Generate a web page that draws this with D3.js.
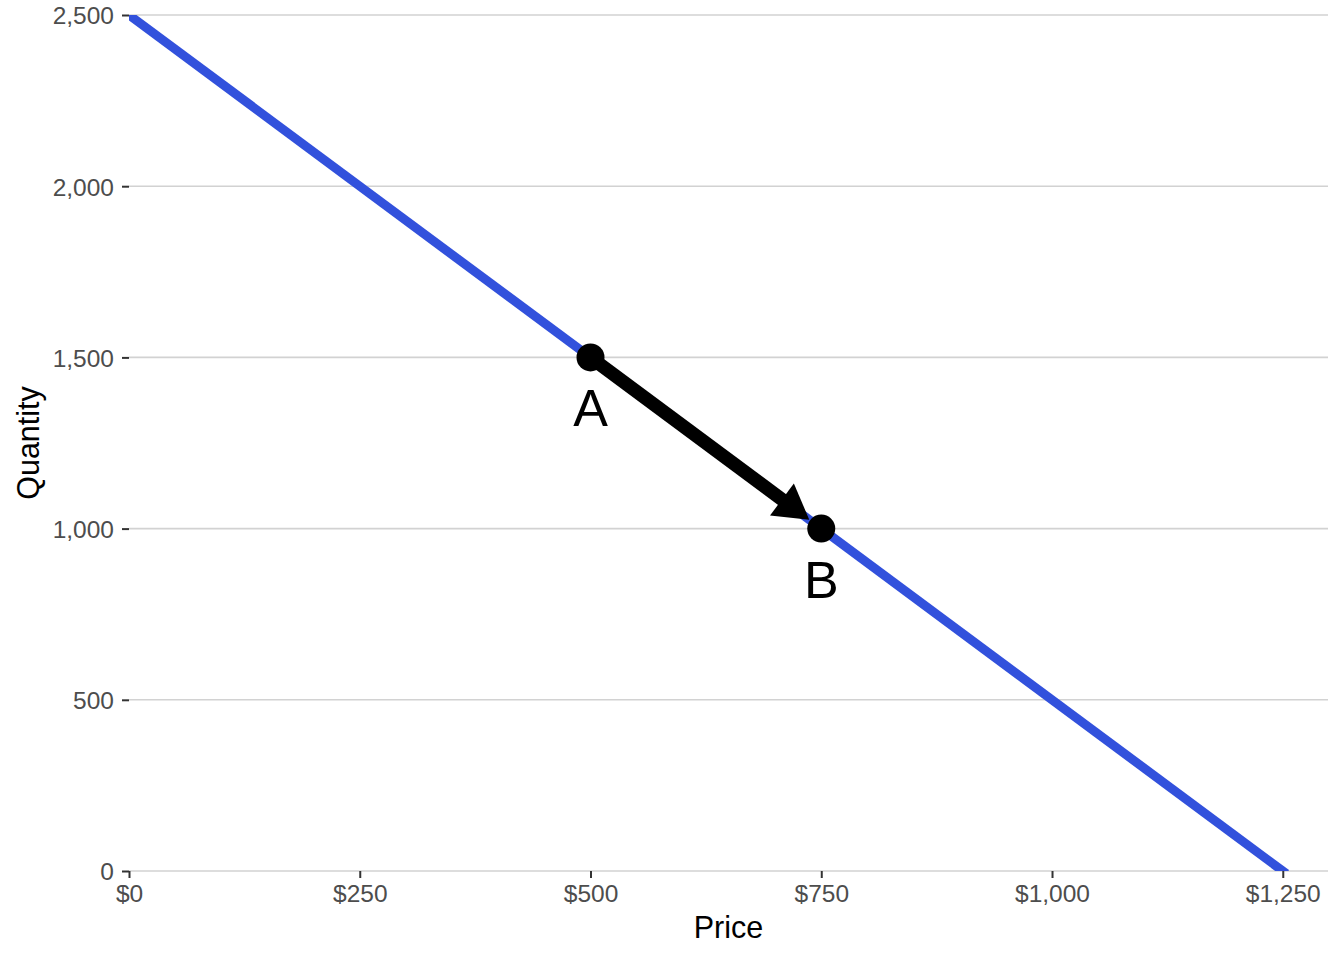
<!DOCTYPE html>
<html><head><meta charset="utf-8">
<script src="https://cdn.jsdelivr.net/npm/d3@7"></script>
<style>body{margin:0;background:#fff}svg{display:block}</style>
</head><body>
<svg id="c" width="1344" height="960"></svg>
<script>
const demandLine = [{price:0, qty:2500},{price:1250, qty:0}];
const points = [{label:"A", price:500, qty:1500},{label:"B", price:750, qty:1000}];
const arrowSeg = [{price:500, qty:1500},{price:737, qty:1026}];
const xTicks = [0,250,500,750,1000,1250];
const yTicks = [0,500,1000,1500,2000,2500];

const svg = d3.select("#c");
const L=129, R=1328, T=15, B=871;
const x = d3.scaleLinear().domain([0,1299]).range([L,R]);
const y = d3.scaleLinear().domain([0,2500]).range([B,T]);
const font = "'Liberation Sans', Arial, Helvetica, sans-serif";

svg.append("defs").append("clipPath").attr("id","panel")
  .append("rect").attr("x",L).attr("y",T).attr("width",R-L).attr("height",B-T);

// gridlines
svg.append("g").selectAll("line").data(yTicks).join("line")
  .attr("x1",L).attr("x2",R).attr("y1",d=>y(d)).attr("y2",d=>y(d))
  .attr("stroke","#d2d2d2").attr("stroke-width",1.6);

// y axis
const fmtN = d3.format(",");
const yAxis = svg.append("g").attr("transform",`translate(${L},0)`)
  .call(d3.axisLeft(y).tickValues(yTicks).tickFormat(fmtN).tickSize(7).tickPadding(8));
yAxis.select(".domain").remove();
yAxis.selectAll(".tick line").attr("stroke","#333").attr("stroke-width",2);
yAxis.selectAll(".tick text").attr("fill","#4d4d4d").style("font-family",font).style("font-size","24.5px").attr("dy","0.36em");

// x axis
const xAxis = svg.append("g").attr("transform",`translate(0,${B})`)
  .call(d3.axisBottom(x).tickValues(xTicks).tickFormat(d=>"$"+fmtN(d)).tickSize(7).tickPadding(7));
xAxis.select(".domain").remove();
xAxis.selectAll(".tick line").attr("stroke","#333").attr("stroke-width",2);
xAxis.selectAll(".tick text").attr("fill","#4d4d4d").style("font-family",font).style("font-size","24.5px");

// titles
svg.append("text").attr("x",(L+R)/2).attr("y",938).attr("text-anchor","middle")
  .style("font-family",font).style("font-size","30.5px").attr("fill","#000").text("Price");
svg.append("text").attr("transform",`translate(39,${(T+B)/2}) rotate(-90)`).attr("text-anchor","middle")
  .style("font-family",font).style("font-size","30.5px").attr("fill","#000").text("Quantity");

// demand line
const line = d3.line().x(d=>x(d.price)).y(d=>y(d.qty));
svg.append("path").datum(demandLine).attr("d",line).attr("clip-path","url(#panel)")
  .attr("fill","none").attr("stroke","#3251DC").attr("stroke-width",9).attr("stroke-linecap","square");

// arrow
const p0 = arrowSeg[0], p1 = arrowSeg[1];
const ax0=x(p0.price), ay0=y(p0.qty), ax1=x(p1.price), ay1=y(p1.qty);
const len=Math.hypot(ax1-ax0, ay1-ay0), ux=(ax1-ax0)/len, uy=(ay1-ay0)/len;
const headL=34, headW=20;
svg.append("line").attr("x1",ax0).attr("y1",ay0)
  .attr("x2",ax1-ux*(headL-4)).attr("y2",ay1-uy*(headL-4))
  .attr("stroke","#000").attr("stroke-width",13.5);
const bx=ax1-ux*headL, by=ay1-uy*headL;
svg.append("path")
  .attr("d",`M${ax1},${ay1} L${bx-uy*headW},${by+ux*headW} L${bx+uy*headW},${by-ux*headW} Z`)
  .attr("fill","#000");

// points
svg.append("g").selectAll("circle").data(points).join("circle")
  .attr("cx",d=>x(d.price)).attr("cy",d=>y(d.qty)).attr("r",14).attr("fill","#000");
svg.append("g").selectAll("text").data(points).join("text")
  .attr("x",d=>x(d.price)).attr("y",d=>y(d.qty)+69).attr("text-anchor","middle")
  .style("font-family",font).style("font-size","52px").attr("fill","#000").text(d=>d.label);
</script>
</body></html>
